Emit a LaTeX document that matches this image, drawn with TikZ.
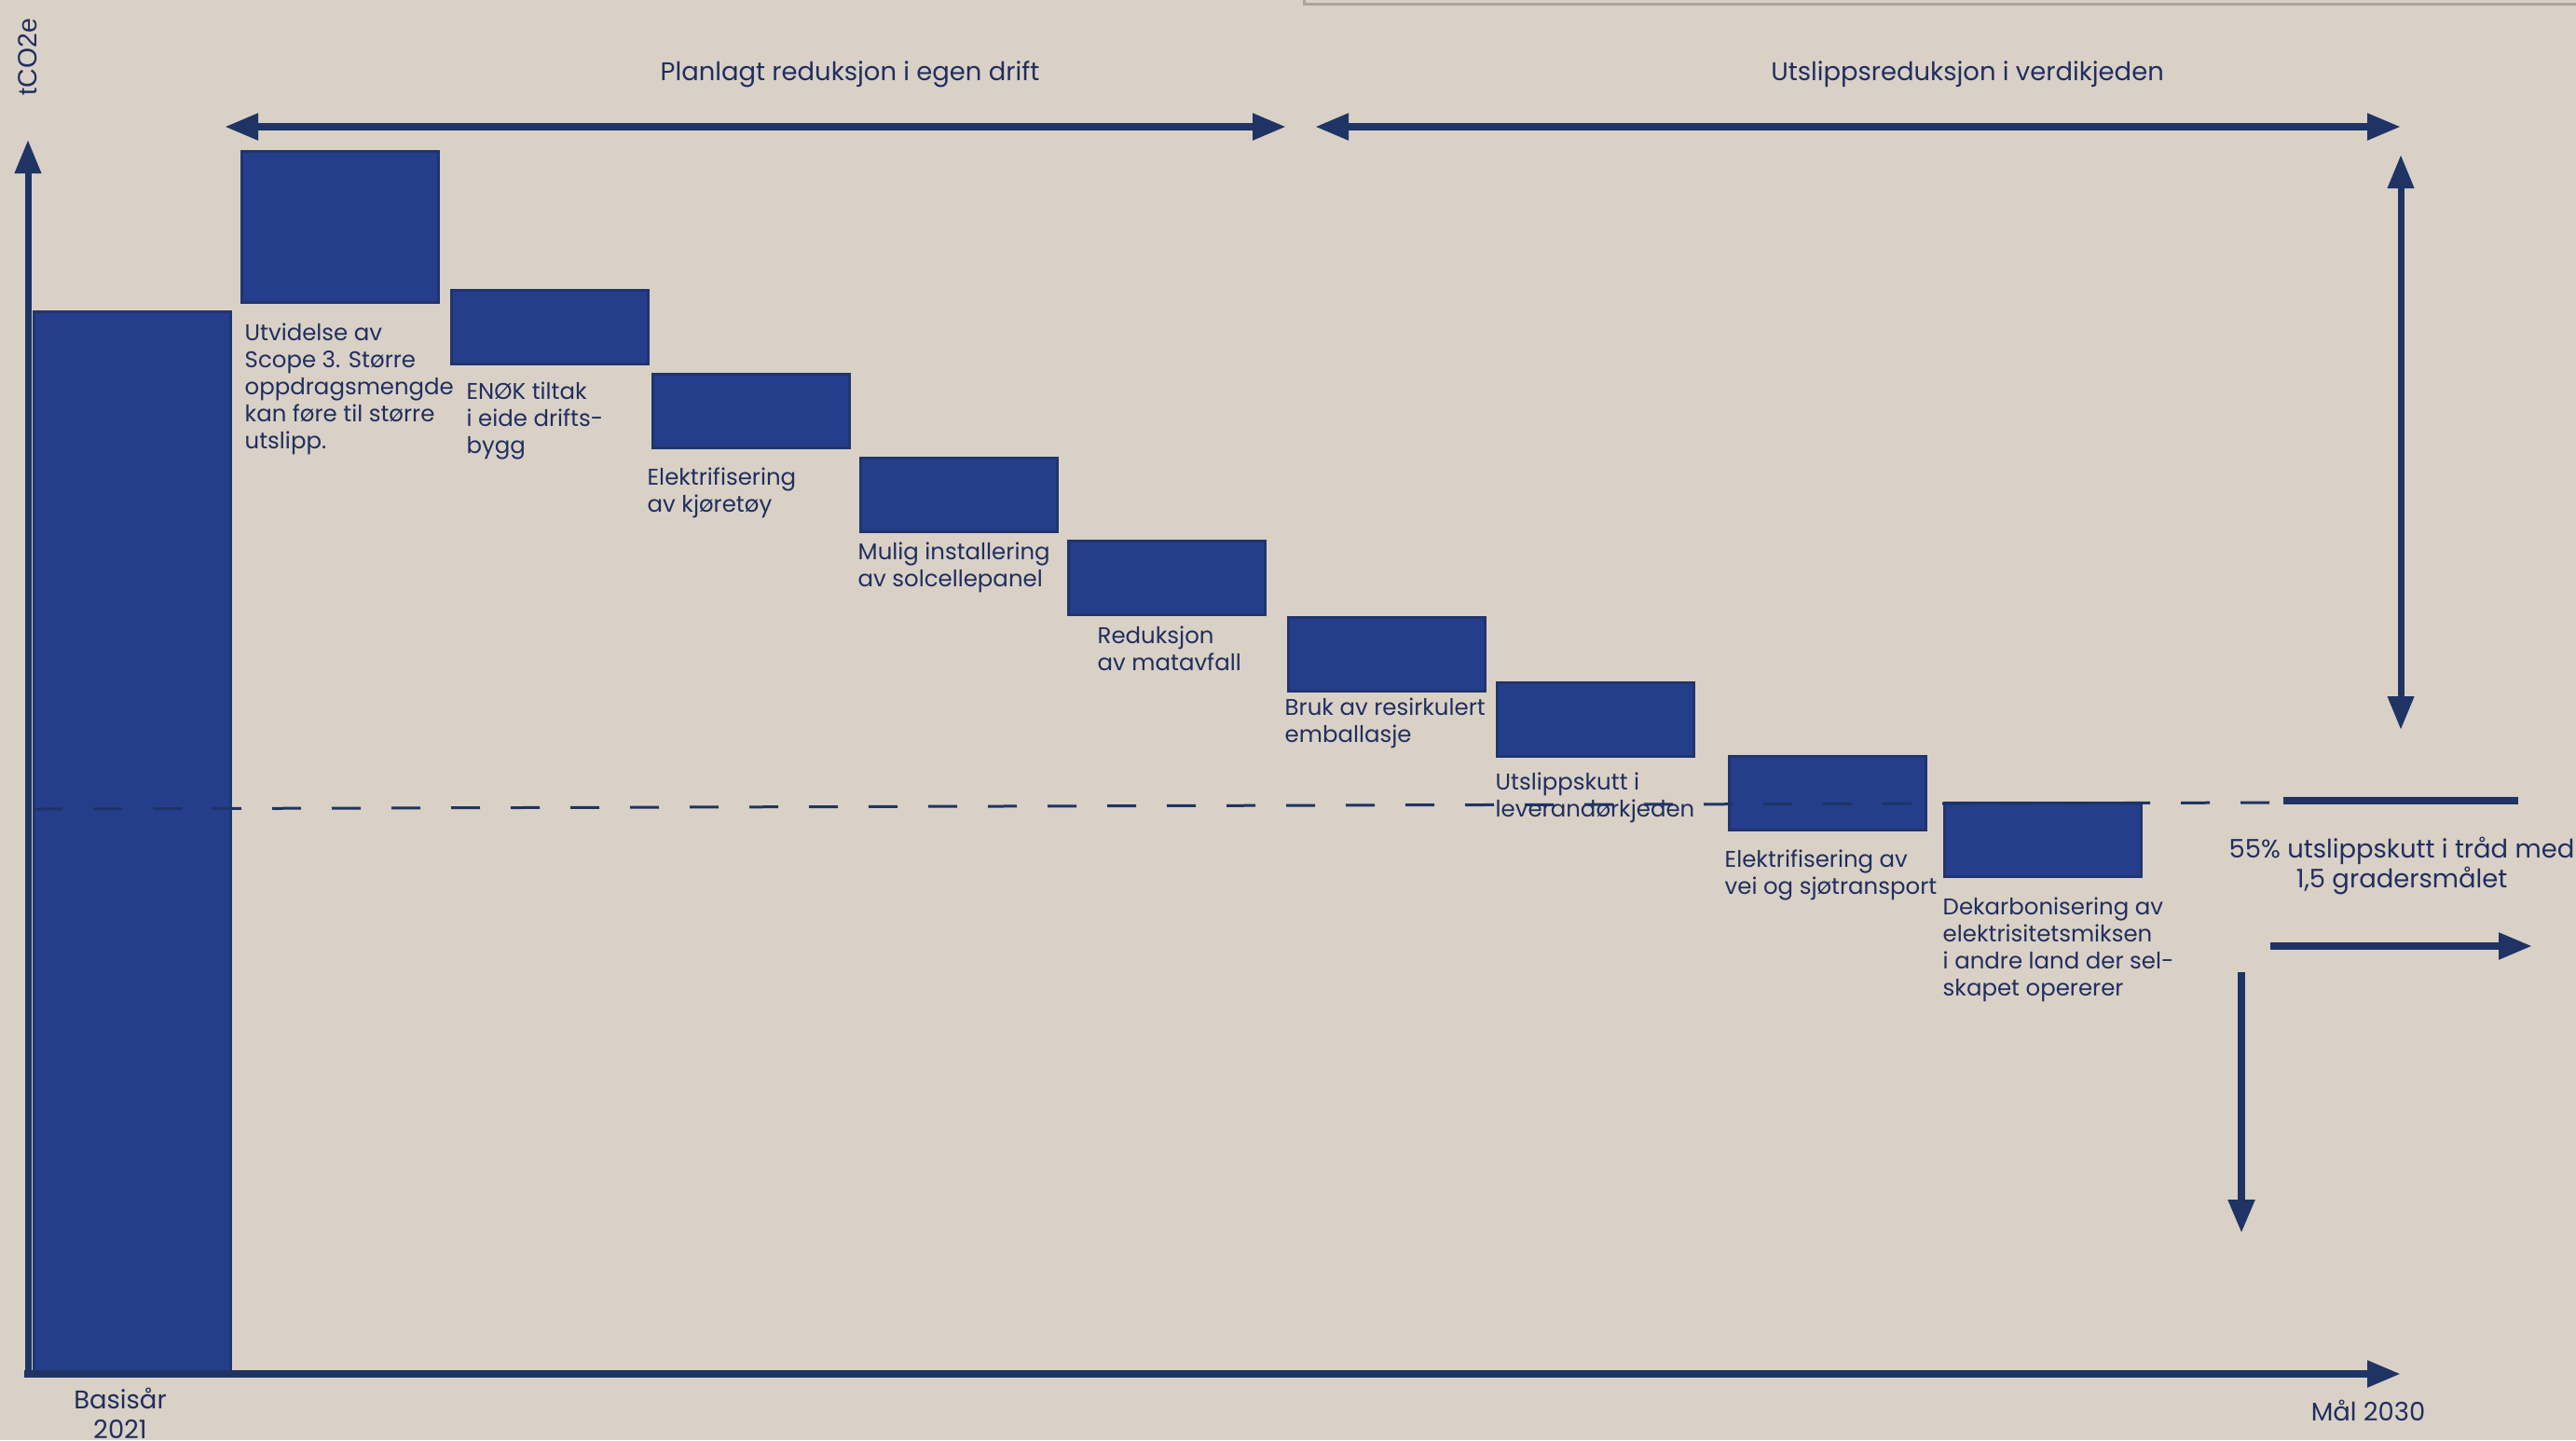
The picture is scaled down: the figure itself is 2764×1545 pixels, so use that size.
\documentclass[tikz,border=0pt]{standalone}
\usepackage{fontspec}
\setmainfont{Poppins}
\newfontfamily\unitfont{Liberation Sans}
\usetikzlibrary{arrows.meta,positioning}

\definecolor{paper}{RGB}{217,209,197}
\definecolor{barblue}{RGB}{36,62,140}
\definecolor{baredge}{RGB}{33,52,110}
\definecolor{navy}{RGB}{31,52,100}
\definecolor{inktext}{RGB}{32,46,96}
\definecolor{framegray}{RGB}{172,164,154}

\begin{document}
\begin{tikzpicture}[x=0.1mm, y=-0.1mm,
    bar/.style={draw=baredge, fill=barblue, line width=0.3mm, anchor=north west,
        inner sep=0, minimum width=21.1mm, minimum height=7.9mm},
    lbl/.style={anchor=north west, inner sep=0, align=left, text=inktext,
        font=\fontsize{6.95}{8.23}\selectfont},
    hdr/.style={inner sep=0, text=inktext, font=\fontsize{7.8}{9.1}\selectfont},
    fat/.style={draw=navy, line width=0.8mm},
    tipped/.style={-{Triangle[length=3.6mm,width=2.7mm]}},
    twotipped/.style={{Triangle[length=3.6mm,width=2.7mm]}-{Triangle[length=3.6mm,width=2.7mm]}}]

    % Background and frame edge
    \fill[paper] (0,0) rectangle (2764,1545);
    \useasboundingbox (0,0) rectangle (2764,1545);
    \draw[framegray, line width=0.3mm] (1399,0) -- (1399,4) -- (2764,4);

    % Define nodes: the bars
    \node[bar, minimum height=113.9mm] (base) at (35,333) {};
    \node[bar, minimum height=16.2mm] (b1) at (258,161) {};
    \node[bar] (b2) at (483,310) {};
    \node[bar] (b3) at (699,400) {};
    \node[bar] (b4) at (922,490) {};
    \node[bar] (b5) at (1145,579) {};
    \node[bar] (b6) at (1381,661) {};
    \node[bar] (b7) at (1605,731) {};
    \node[bar] (b8) at (1854,810) {};
    \node[bar] (b9) at (2085,860) {};

    % Labels under the bars
    \node[lbl] (l1) at (262,346) {Utvidelse av\\Scope 3. Større\\oppdragsmengde\\kan føre til større\\utslipp.};
    \node[lbl] (l2) at (500,409) {ENØK tiltak\\i eide drifts-\\bygg};
    \node[lbl] (l3) at (694,501) {Elektrifisering\\av kjøretøy};
    \node[lbl] (l4) at (920,581) {Mulig installering\\av solcellepanel};
    \node[lbl] (l5) at (1177,671) {Reduksjon\\av matavfall};
    \node[lbl] (l6) at (1378,748) {Bruk av resirkulert\\emballasje};
    \node[lbl] (l7) at (1604,828) {Utslippskutt i\\leverandørkjeden};
    \node[lbl] (l8) at (1850,911) {Elektrifisering av\\vei og sjøtransport};
    \node[lbl] (l9) at (2084,962) {Dekarbonisering av\\elektrisitetsmiksen\\i andre land der sel-\\skapet opererer};

    % Headings and axis texts
    \node[hdr, anchor=base] (ops) at (912,86) {Planlagt reduksjon i egen drift};
    \node[hdr, anchor=base] (chain) at (2111,86) {Utslippsreduksjon i verdikjeden};
    \node[hdr, rotate=90, font=\unitfont\fontsize{8.1}{9}\selectfont] (unit) at (30,61) {tCO2e};
    \node[hdr, anchor=north, align=center] (baseyear) at (129,1488) {Basisår\\2021};
    \node[hdr, anchor=base] (goalyear) at (2541,1524) {Mål 2030};
    \node[hdr, anchor=north, align=center] (goal) at (2577,897) {55\% utslippskutt i tråd med\\1,5 gradersmålet};

    % Coordinates for the free ends
    \coordinate (ylow) at (30,1478);
    \coordinate (yhigh) at (30,150);
    \coordinate (xlow) at (26,1474);
    \coordinate (xhigh) at (2576,1474);
    \coordinate (opsL) at (241,136);
    \coordinate (opsR) at (1380,136);
    \coordinate (chainL) at (1411,136);
    \coordinate (chainR) at (2576,136);
    \coordinate (gapT) at (2576,166);
    \coordinate (gapB) at (2576,783);
    \coordinate (dashL) at (36,868);
    \coordinate (dashR) at (2443,861);
    \coordinate (goalL) at (2450,859);
    \coordinate (goalR) at (2702,859);
    \coordinate (fwdL) at (2436,1015);
    \coordinate (fwdR) at (2717,1015);
    \coordinate (dropT) at (2405,1043);
    \coordinate (dropB) at (2405,1323);

    % Target line, dashed from the base year
    \draw[navy, line width=0.3mm, dash pattern=on 3.1mm off 3.3mm] (dashL) -- (dashR);
    \draw[fat] (goalL) -- (goalR);

    % Axes
    \draw[fat, tipped, line width=0.7mm] (ylow) -- (yhigh);
    \draw[fat, tipped] (xlow) -- (xhigh);

    % Span arrows
    \draw[fat, twotipped] (opsL) -- (opsR);
    \draw[fat, twotipped] (chainL) -- (chainR);
    \draw[fat, twotipped, line width=0.7mm] (gapT) -- (gapB);
    \draw[fat, tipped] (fwdL) -- (fwdR);
    \draw[fat, tipped] (dropT) -- (dropB);
\end{tikzpicture}
\end{document}
